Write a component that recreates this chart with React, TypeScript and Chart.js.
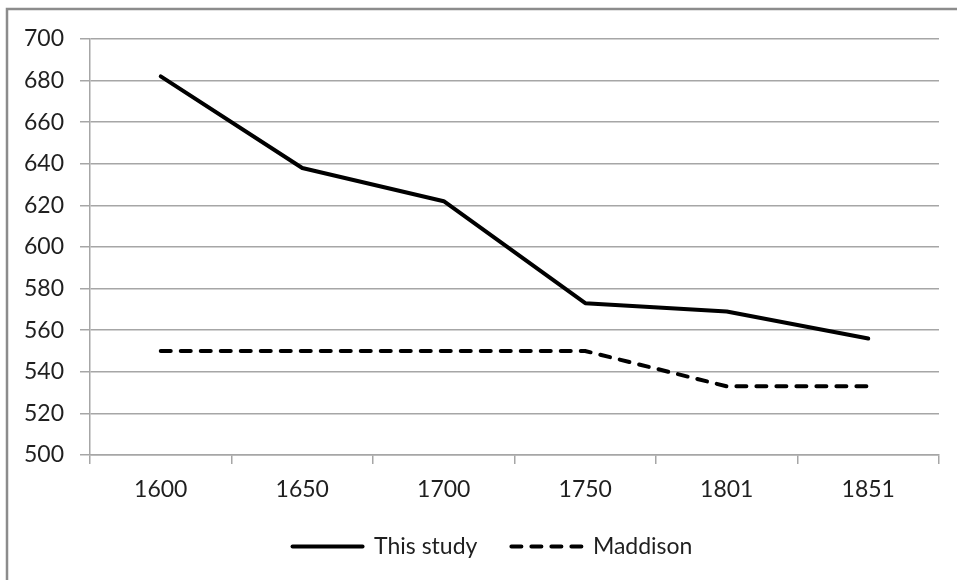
import React, { useEffect, useRef } from "react";
import { Chart, registerables } from "chart.js";

Chart.register(...registerables);

const categories = ["1600", "1650", "1700", "1750", "1801", "1851"];
const thisStudy = [682, 638, 622, 573, 569, 556];
const maddison = [550, 550, 550, 550, 533, 533];
const yTicks = [500, 520, 540, 560, 580, 600, 620, 640, 660, 680, 700];

const FONT = "Lato, 'Open Sans', sans-serif";

const framePlugin = {
  id: "frame",
  beforeDraw(chart: any) {
    const ctx = chart.ctx;
    ctx.save();
    ctx.fillStyle = "#ffffff";
    ctx.fillRect(0, 0, chart.width, chart.height);
    ctx.strokeStyle = "#8c8c8c";
    ctx.lineWidth = 2.5;
    ctx.beginPath();
    ctx.moveTo(7, chart.height + 5);
    ctx.lineTo(7, 9);
    ctx.lineTo(chart.width + 5, 9);
    ctx.stroke();
    ctx.restore();
  },
};

const legendShift = {
  id: "legendShift",
  afterLayout(chart: any) {
    if (chart.legend) {
      chart.legend.left += 23;
      chart.legend.right += 23;
    }
  },
};

export default function App() {
  const ref = useRef<HTMLCanvasElement | null>(null);
  useEffect(() => {
    document.body.style.margin = "0";
    const c = ref.current;
    if (!c) return;
    const chart = new Chart(c, {
      type: "line",
      data: {
        labels: categories,
        datasets: [
          {
            label: "This study",
            data: thisStudy,
            borderColor: "#000000",
            backgroundColor: "#000000",
            borderWidth: 4,
            pointRadius: 0,
            tension: 0,
            borderCapStyle: "round",
            borderJoinStyle: "round",
          },
          {
            label: "Maddison",
            data: maddison,
            borderColor: "#000000",
            backgroundColor: "#000000",
            borderWidth: 4,
            borderDash: [10, 10],
            borderCapStyle: "round",
            pointRadius: 0,
            tension: 0,
          },
        ],
      },
      options: {
        responsive: false,
        animation: false,
        layout: { padding: { top: 39, right: 18, left: 0, bottom: 12 } },
        plugins: {
          tooltip: { enabled: false },
          legend: {
            position: "bottom",
            labels: {
              usePointStyle: true,
              pointStyle: "line",
              pointStyleWidth: 70,
              padding: 34,
              color: "#1f1f1f",
              font: { family: FONT, size: 23 },
              generateLabels: (ch: any) =>
                ch.data.datasets.map((ds: any, i: number) => ({
                  text: ds.label,
                  fillStyle: "#000",
                  strokeStyle: "#000",
                  lineWidth: 4,
                  lineDash: i === 1 ? [10, 10] : [],
                  lineCap: "round",
                  pointStyle: "line",
                  datasetIndex: i,
                  hidden: false,
                  fontColor: "#1f1f1f",
                })),
            },
          },
        },
        scales: {
          x: {
            type: "category",
            offset: true,
            grid: {
              offset: true,
              drawOnChartArea: false,
              drawTicks: true,
              tickLength: 9,
              color: "#a6a6a6",
              lineWidth: 1.5,
            },
            border: { color: "#a6a6a6", width: 1.5 },
            ticks: {
              color: "#1f1f1f",
              font: { family: FONT, size: 23 },
              padding: 12,
              maxRotation: 0,
            },
            afterFit: (s: any) => {
              s.height = 46;
            },
          },
          y: {
            min: 500,
            max: 700,
            afterBuildTicks: (s: any) => {
              s.ticks = yTicks.map((v) => ({ value: v }));
            },
            grid: {
              color: "#a6a6a6",
              lineWidth: 1.5,
              tickLength: 10,
            },
            border: { color: "#a6a6a6", width: 1.5 },
            ticks: {
              color: "#1f1f1f",
              font: { family: FONT, size: 23 },
              padding: 16,
            },
            afterFit: (s: any) => {
              s.width = 90;
            },
          },
        },
      },
      plugins: [framePlugin, legendShift],
    });
    return () => chart.destroy();
  }, []);
  return <canvas ref={ref} width={957} height={580} style={{ display: "block" }} />;
}
